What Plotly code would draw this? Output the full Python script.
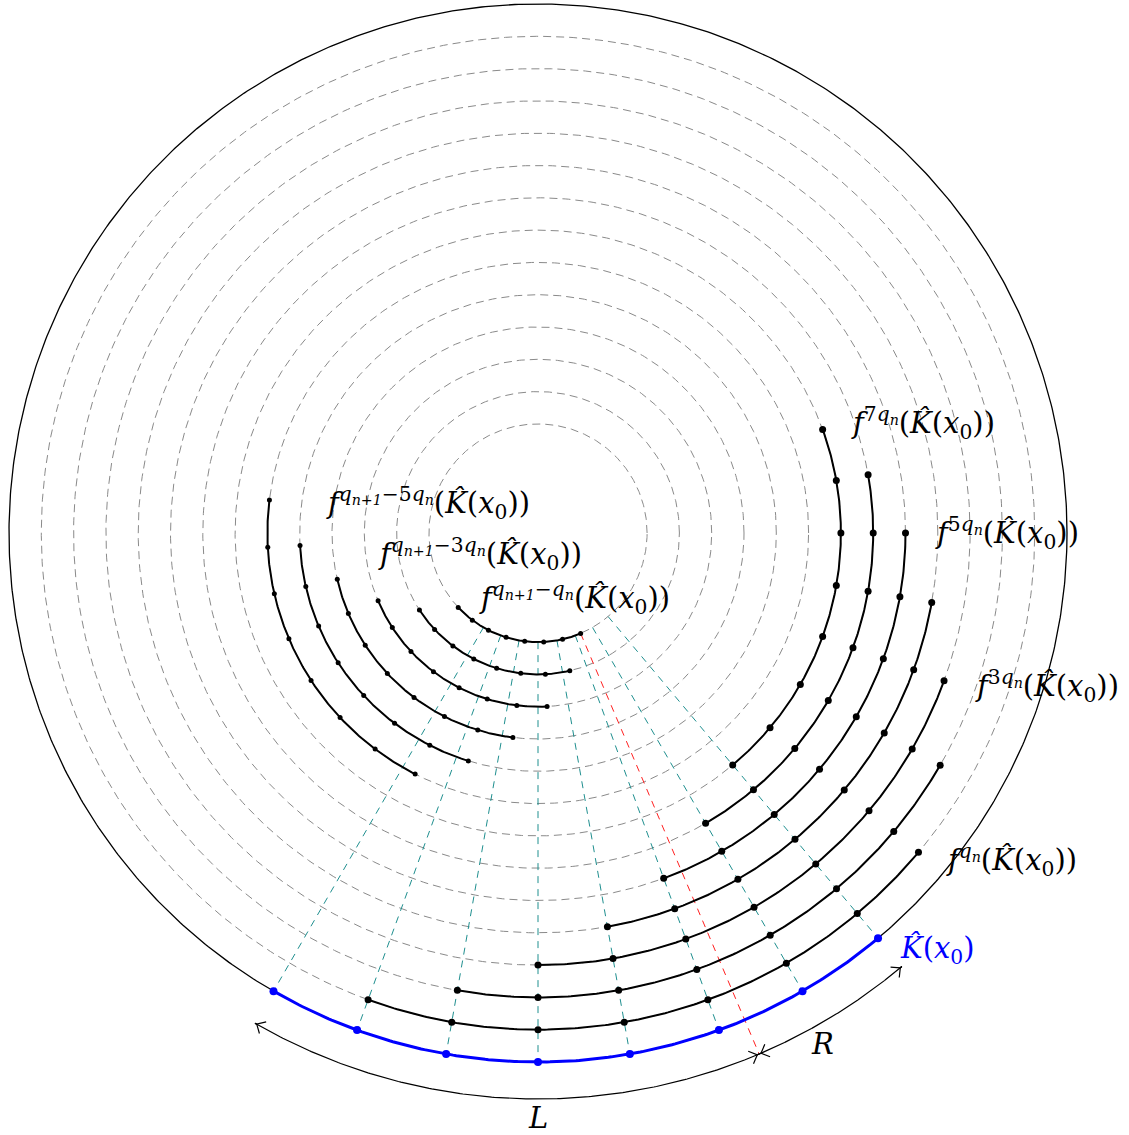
import numpy as np
import plotly.graph_objects as go

# ---------------- data ----------------
BASE_ANGLES = [-120, -110, -100, -90, -80, -70, -60, -50]          # dots of K^(x0), degrees
LEVELS = [1, 2, 3, 4, 5, 6, 7, 8, 9, 10, 11, 12, 13]              # ring index of each iterate
ROTATIONS = [10, 20, 30, 40, 50, 60, 70, -67, -57, -47, -37, -27, -17]  # rotation of each iterate
RED_ANGLE = -67
L_SPAN = [-120, -67]
R_SPAN = [-67, -50]
LABEL_TEXTS = [
    "<i>f</i><sup><i>q<sub>n</sub></i></sup>(<i>K̂</i>(<i>x</i><sub>0</sub>))",
    "<i>f</i><sup>3<i>q<sub>n</sub></i></sup>(<i>K̂</i>(<i>x</i><sub>0</sub>))",
    "<i>f</i><sup>5<i>q<sub>n</sub></i></sup>(<i>K̂</i>(<i>x</i><sub>0</sub>))",
    "<i>f</i><sup>7<i>q<sub>n</sub></i></sup>(<i>K̂</i>(<i>x</i><sub>0</sub>))",
    "<i>f</i><sup><i>q<sub>n+1</sub></i>−5<i>q<sub>n</sub></i></sup>(<i>K̂</i>(<i>x</i><sub>0</sub>))",
    "<i>f</i><sup><i>q<sub>n+1</sub></i>−3<i>q<sub>n</sub></i></sup>(<i>K̂</i>(<i>x</i><sub>0</sub>))",
    "<i>f</i><sup><i>q<sub>n+1</sub></i>−<i>q<sub>n</sub></i></sup>(<i>K̂</i>(<i>x</i><sub>0</sub>))",
]

# ---------------- geometry / style ----------------
CX, CY = 538, 533          # pixel centre in the reference
R0 = 529.0
STEP = 32.3
R_ARROW = 566.0
SERIF = "DejaVu Serif"
FS = 29

def rad(level):
    return R0 - STEP * level

def px(x, y):
    return x - CX, CY - y

def arc(r, a0, a1, n=200):
    t = np.radians(np.linspace(a0, a1, n))
    return r * np.cos(t), r * np.sin(t)

fig = go.Figure()

def line(x, y, color, width, dash=None):
    fig.add_trace(go.Scatter(x=x, y=y, mode="lines",
                             line=dict(color=color, width=width, dash=dash),
                             hoverinfo="skip", showlegend=False))

# dashed grey circles
for lv in LEVELS:
    x, y = arc(rad(lv), 0, 360, 600)
    line(x, y, "#8a8a8a", 1, "8px,5px")

# teal radial lines
r_in = rad(LEVELS[-1])
for a in BASE_ANGLES:
    t = np.radians(a)
    line([r_in * np.cos(t), rad(0) * np.cos(t)], [r_in * np.sin(t), rad(0) * np.sin(t)],
         "#1f8f8f", 1, "7px,6px")

# red line
t = np.radians(RED_ANGLE)
line([r_in * np.cos(t), R_ARROW * np.cos(t)], [r_in * np.sin(t), R_ARROW * np.sin(t)],
     "#ff2020", 1, "7px,6px")

# outer solid circle
x, y = arc(rad(0), 0, 360, 900)
line(x, y, "black", 1.3)

# iterate arcs
for lv, rot in zip(LEVELS, ROTATIONS):
    angs = np.array(BASE_ANGLES) + rot
    r = rad(lv)
    x, y = arc(r, angs.min(), angs.max())
    line(x, y, "black", 2)
    tt = np.radians(angs)
    fig.add_trace(go.Scatter(x=r * np.cos(tt), y=r * np.sin(tt), mode="markers",
                             marker=dict(color="black", size=7 if lv <= 7 else 5),
                             hoverinfo="skip", showlegend=False))

# blue arc
x, y = arc(rad(0), min(BASE_ANGLES), max(BASE_ANGLES))
line(x, y, "#0000ff", 3)
tt = np.radians(BASE_ANGLES)
fig.add_trace(go.Scatter(x=rad(0) * np.cos(tt), y=rad(0) * np.sin(tt), mode="markers",
                         marker=dict(color="#0000ff", size=8),
                         hoverinfo="skip", showlegend=False))

# L and R arcs with arrow heads at both ends
def arrow_head(ang, direction):
    t = np.radians(ang)
    tip = np.array([R_ARROW * np.cos(t), R_ARROW * np.sin(t)])
    tang = direction * np.array([-np.sin(t), np.cos(t)])
    nrm = np.array([np.cos(t), np.sin(t)])
    L = 9
    p1 = tip - L * tang + 0.75 * L * nrm
    p2 = tip - L * tang - 0.75 * L * nrm
    line([p1[0], tip[0] - 2 * tang[0], tip[0]], [p1[1], tip[1] - 2 * tang[1], tip[1]], "black", 1.2)
    line([p2[0], tip[0] - 2 * tang[0], tip[0]], [p2[1], tip[1] - 2 * tang[1], tip[1]], "black", 1.2)

for span in (L_SPAN, R_SPAN):
    x, y = arc(R_ARROW, span[0], span[1])
    line(x, y, "black", 1.2)
    arrow_head(span[0], -1)
    arrow_head(span[1], +1)

# labels (reference pixel positions of left edge / vertical middle)
LABEL_POS = [(944, 860), (973, 686), (933, 533), (849, 423), (324, 503), (376, 554), (477, 598)]
for txt, (lx, ly) in zip(LABEL_TEXTS, LABEL_POS):
    x, y = px(lx, ly)
    fig.add_annotation(x=x, y=y, text=txt, showarrow=False, xanchor="left", yanchor="middle",
                       font=dict(family=SERIF, size=FS, color="black"))

x, y = px(898, 950)
fig.add_annotation(x=x, y=y, text="<i>K̂</i>(<i>x</i><sub>0</sub>)", showarrow=False,
                   xanchor="left", yanchor="middle", font=dict(family=SERIF, size=FS, color="#0000ff"))
x, y = px(822, 1044)
fig.add_annotation(x=x, y=y, text="<i>R</i>", showarrow=False, xanchor="center", yanchor="middle",
                   font=dict(family=SERIF, size=FS, color="black"))
x, y = px(538, 1118)
fig.add_annotation(x=x, y=y, text="<i>L</i>", showarrow=False, xanchor="center", yanchor="middle",
                   font=dict(family=SERIF, size=FS, color="black"))

W, H = 1129, 1135
fig.update_layout(width=W, height=H, margin=dict(l=0, r=0, t=0, b=0),
                  paper_bgcolor="white", plot_bgcolor="white", showlegend=False,
                  xaxis=dict(range=[-CX, W - CX], visible=False, fixedrange=True),
                  yaxis=dict(range=[CY - H, CY], visible=False, fixedrange=True))
fig.write_html("out.html", config={"displayModeBar": False},
               post_script="document.body.style.margin='0';document.body.style.overflow='hidden';")
